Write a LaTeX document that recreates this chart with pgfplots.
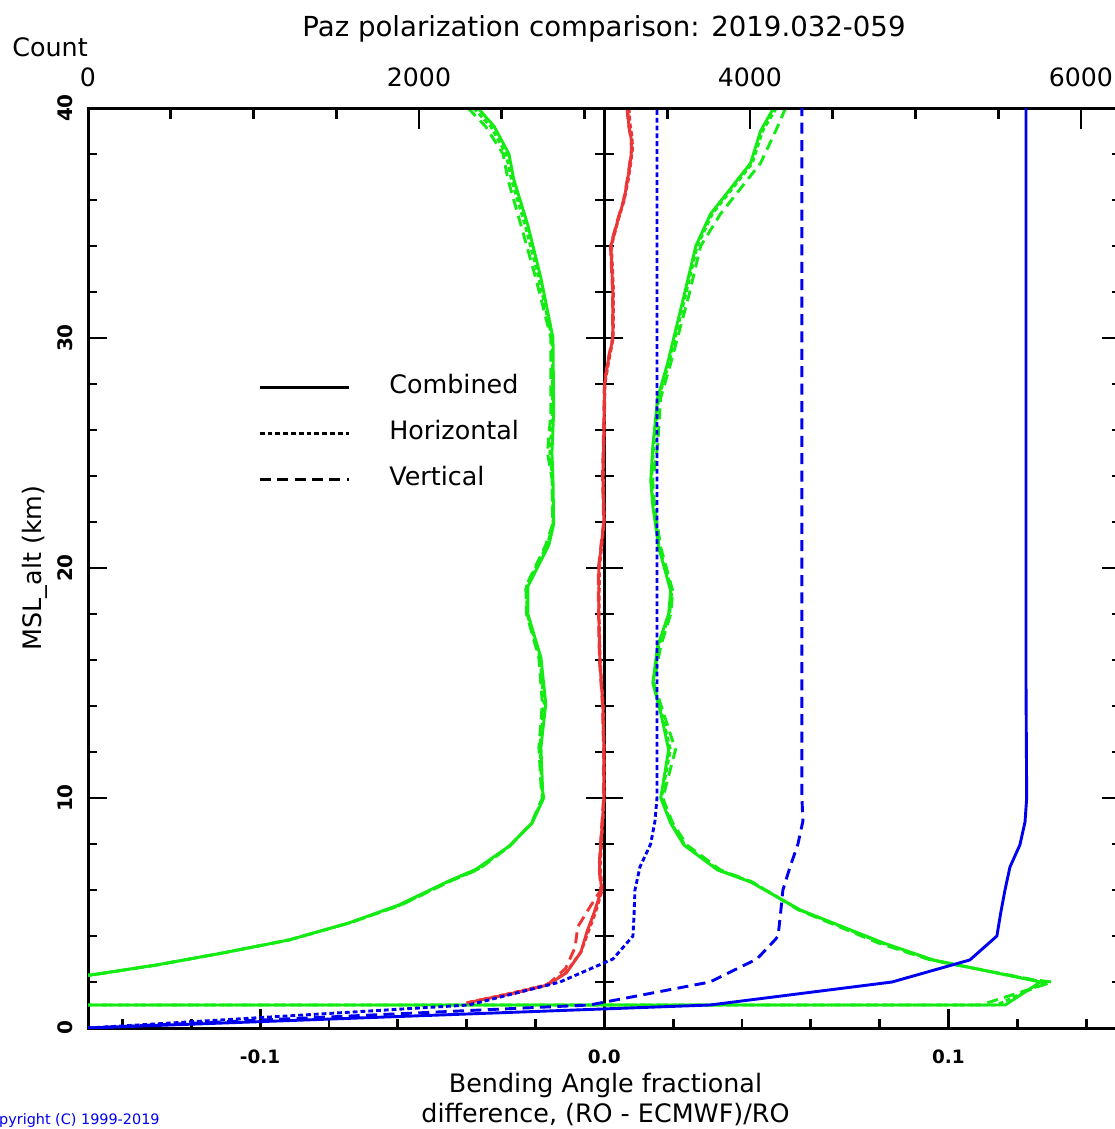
\documentclass[border=0pt]{standalone}
\usepackage{fontspec}
\setmainfont{DejaVu Sans}
\usepackage{pgfplots}
\pgfplotsset{compat=1.18}

\definecolor{stdgreen}{RGB}{20,235,20}
\definecolor{meanred}{RGB}{235,55,55}
\definecolor{cntblue}{RGB}{0,0,240}

\tikzset{
  comb/.style={solid, line width=1.45pt},
  horiz/.style={line width=1.45pt, dash pattern=on 2.4pt off 1.5pt},
  vert/.style={line width=1.45pt, dash pattern=on 5.5pt off 3.2pt},
}

\pgfplotsset{
  panel/.style={
    at={(44pt,-514pt)}, anchor=south west,
    scale only axis, width=516.25pt, height=460pt,
    ymin=0, ymax=40,
    axis line style={line width=1.5pt, -},
    tick align=inside,
    tick style={black, line width=1.4pt},
  },
}

\begin{document}
\begin{tikzpicture}

% fractional difference axis (bottom/left/right)
\begin{axis}[panel,
  xmin=-0.15, xmax=0.15,
  xtick={-0.1,0,0.1}, xticklabels={-0.1,0.0,0.1},
  minor xtick={-0.14,-0.12,-0.08,-0.06,-0.04,-0.02,0.02,0.04,0.06,0.08,0.12,0.14},
  xtick pos=left,
  ytick={0,10,30,40}, yticklabels={0,10,30,40},
  extra y ticks={20}, extra y tick labels={20},
  minor ytick={2,4,6,8,12,14,16,18,22,24,26,28,32,34,36,38},
  every major y tick/.append style={line width=0.6pt},
  extra y tick style={every major y tick/.append style={line width=1.4pt}},
  major tick length=9.5pt, minor tick length=4.5pt,
  yticklabel pos=left,
  x tick label style={font=\fontsize{9.2}{10}\selectfont\bfseries, anchor=center, yshift=-14.5pt},
  y tick label style={font=\fontsize{10}{11}\selectfont\bfseries, anchor=center, xshift=-11.5pt, rotate=90},
  legend style={at={(axis cs:-0.1006,28.45)}, anchor=north west, draw=none, fill=none,
    inner sep=0pt, row sep=10pt,
    font=\fontsize{12.7}{15}\selectfont,
    nodes={inner sep=0pt, text height=9.6pt, text depth=3.4pt}},
  legend cell align=left,
  legend image code/.code={\draw[#1] (0pt,0pt) -- (44.5pt,0pt); \path (64pt,0pt);},
]
\addlegendimage{black, comb}
\addlegendentry{Combined}
\addlegendimage{black, horiz}
\addlegendentry{Horizontal}
\addlegendimage{black, vert}
\addlegendentry{Vertical}

% zero line with crossing ticks
\draw[line width=1.5pt] (axis cs:0,0) -- (axis cs:0,40);
\pgfplotsinvokeforeach{2,4,6,8,12,14,16,18,22,24,26,28,32,34,36,38}{
  \draw[line width=1.4pt] ([xshift=-4.75pt]axis cs:0,#1) -- ([xshift=4.75pt]axis cs:0,#1);}
\pgfplotsinvokeforeach{10,30}{
  \draw[line width=0.6pt] ([xshift=-9.25pt]axis cs:0,#1) -- ([xshift=9.25pt]axis cs:0,#1);}
\draw[line width=1.4pt] ([xshift=-9.25pt]axis cs:0,20) -- ([xshift=9.25pt]axis cs:0,20);

% mean minus one standard deviation
\addplot[stdgreen, comb, forget plot] coordinates {
(-0.0367,40) (-0.0320,39.2) (-0.0277,38.0) (-0.0263,36.9) (-0.0222,34.9) (-0.0184,32.6)
(-0.0149,30.0) (-0.0147,26.8) (-0.0152,25.0) (-0.0149,23.9) (-0.0147,21.9) (-0.0161,21.0)
(-0.0222,19.2) (-0.0222,18.0) (-0.0184,16.1) (-0.0170,14.1) (-0.0184,12.2) (-0.0179,10.3)
(-0.0176,10.0) (-0.0210,8.9) (-0.0277,7.9) (-0.0373,6.9) (-0.0451,6.4) (-0.0597,5.35)
(-0.0742,4.57) (-0.0916,3.83) (-0.1110,3.26) (-0.1302,2.74) (-0.1496,2.3) (-0.30,2.0) (-0.6,1.0)};
\addplot[stdgreen, horiz, forget plot] coordinates {
(-0.0380,40) (-0.0330,39.2) (-0.0285,38.0) (-0.0270,36.9) (-0.0230,34.9) (-0.0190,32.6)
(-0.0152,30.0) (-0.0150,26.8) (-0.0158,25.0) (-0.0151,23.9) (-0.0149,21.9) (-0.0166,21.0)
(-0.0226,19.2) (-0.0224,18.0) (-0.0187,16.1) (-0.0175,14.1) (-0.0187,12.2) (-0.0181,10.3)
(-0.0178,10.0) (-0.0211,8.9) (-0.0276,7.9) (-0.0368,6.9) (-0.0447,6.4) (-0.0592,5.35)
(-0.0740,4.57) (-0.0914,3.83) (-0.1108,3.26) (-0.1300,2.74) (-0.1492,2.3) (-0.30,2.0) (-0.6,1.0)};
\addplot[stdgreen, vert, forget plot] coordinates {
(-0.0396,40) (-0.0345,39.2) (-0.0294,38.0) (-0.0280,36.9) (-0.0242,34.9) (-0.0199,32.6)
(-0.0155,30.0) (-0.0155,26.8) (-0.0165,25.0) (-0.0152,23.9) (-0.0150,21.9) (-0.0170,21.0)
(-0.0228,19.2) (-0.0226,18.0) (-0.0190,16.1) (-0.0180,14.1) (-0.0190,12.2) (-0.0183,10.3)
(-0.0180,10.0) (-0.0212,8.9) (-0.0275,7.9) (-0.0365,6.9) (-0.0445,6.4) (-0.0590,5.35)
(-0.0740,4.57) (-0.0916,3.83) (-0.1110,3.26) (-0.1300,2.74) (-0.1490,2.3) (-0.30,2.0) (-0.6,1.0)};

% mean plus one standard deviation
\addplot[stdgreen, comb, forget plot] coordinates {
(0.0492,40) (0.0454,39.0) (0.0425,37.6) (0.0388,36.9) (0.0309,35.4) (0.0266,34.0)
(0.0231,31.8) (0.0184,28.9) (0.0155,27.4) (0.0141,25.3) (0.0135,23.8) (0.0141,22.7)
(0.0158,20.9) (0.0193,19.0) (0.0187,18.0) (0.0155,16.6) (0.0141,15.0) (0.0164,13.7)
(0.0187,12.1) (0.0164,10.0) (0.0193,8.9) (0.0231,7.96) (0.0329,6.87) (0.0425,6.35)
(0.0570,5.13) (0.0811,3.7) (0.0956,2.96) (0.1238,2.09) (0.1267,2.0) (0.1165,1.0) (-0.6,1.0)};
\addplot[stdgreen, horiz, forget plot] coordinates {
(0.0500,40) (0.0460,39.0) (0.0430,37.6) (0.0393,36.9) (0.0314,35.4) (0.0270,34.0)
(0.0235,31.8) (0.0188,28.9) (0.0158,27.4) (0.0144,25.3) (0.0137,23.8) (0.0143,22.7)
(0.0160,20.9) (0.0196,19.0) (0.0190,18.0) (0.0158,16.6) (0.0142,15.0) (0.0167,13.7)
(0.0192,12.1) (0.0166,10.0) (0.0195,8.9) (0.0234,7.96) (0.0332,6.87) (0.0428,6.35)
(0.0568,5.13) (0.0805,3.7) (0.0952,2.96) (0.1244,2.09) (0.1285,2.0) (0.1140,1.0) (-0.6,1.0)};
\addplot[stdgreen, vert, forget plot] coordinates {
(0.0527,40) (0.0498,39.0) (0.0454,37.6) (0.0417,36.9) (0.0338,35.4) (0.0280,34.0)
(0.0245,31.8) (0.0193,28.9) (0.0164,27.4) (0.0155,25.3) (0.0141,23.8) (0.0146,22.7)
(0.0164,20.9) (0.0199,19.0) (0.0193,18.0) (0.0164,16.6) (0.0144,15.0) (0.0172,13.7)
(0.0207,12.1) (0.0170,10.0) (0.0199,8.9) (0.0240,7.96) (0.0338,6.87) (0.0430,6.35)
(0.0565,5.13) (0.0796,3.7) (0.0947,2.96) (0.1250,2.09) (0.1302,2.0) (0.1093,1.0) (-0.6,1.0)};

% mean
\addplot[meanred, comb, forget plot] coordinates {
(0.0068,40) (0.0071,39.3) (0.0078,38.7) (0.0080,38.2) (0.0074,37.5) (0.0068,36.9)
(0.0057,36.0) (0.0039,35.1) (0.0019,34.0) (0.0025,32.0) (0.0025,30.0) (0.0010,28.9)
(0.0001,28.0) (-0.0001,26.0) (-0.0004,24.0) (-0.0001,22.0) (-0.0016,20.0) (-0.0016,18.0)
(-0.0013,16.0) (-0.0004,14.0) (-0.0001,12.0) (-0.0001,10.0) (-0.0010,8.0) (-0.0014,7.0)
(-0.0008,6.0) (-0.0030,5.0) (-0.0050,4.2) (-0.0068,3.3) (-0.0110,2.4) (-0.0165,1.87)
(-0.0262,1.52) (-0.0400,1.09)};
\addplot[meanred, horiz, forget plot] coordinates {
(0.0072,40) (0.0075,39.3) (0.0081,38.7) (0.0082,38.2) (0.0076,37.5) (0.0070,36.9)
(0.0058,36.0) (0.0040,35.1) (0.0021,34.0) (0.0027,32.0) (0.0026,30.0) (0.0012,28.9)
(0.0002,28.0) (0.0000,26.0) (-0.0003,24.0) (0.0000,22.0) (-0.0014,20.0) (-0.0015,18.0)
(-0.0012,16.0) (-0.0003,14.0) (0.0000,12.0) (0.0000,10.0) (-0.0008,8.0) (-0.0012,7.0)
(-0.0006,6.0) (-0.0026,5.0) (-0.0046,4.2) (-0.0068,3.3) (-0.0112,2.4) (-0.0170,1.87)
(-0.0270,1.52) (-0.0400,1.09)};
\addplot[meanred, vert, forget plot] coordinates {
(0.0066,40) (0.0070,39.3) (0.0077,38.7) (0.0079,38.2) (0.0073,37.5) (0.0067,36.9)
(0.0056,36.0) (0.0038,35.1) (0.0018,34.0) (0.0024,32.0) (0.0024,30.0) (0.0009,28.9)
(0.0000,28.0) (-0.0002,26.0) (-0.0005,24.0) (-0.0002,22.0) (-0.0017,20.0) (-0.0017,18.0)
(-0.0014,16.0) (-0.0005,14.0) (-0.0002,12.0) (-0.0002,10.0) (-0.0011,8.0) (-0.0015,7.0)
(-0.0010,6.0) (-0.0040,5.3) (-0.0077,4.4) (-0.0085,3.5) (-0.0112,2.6) (-0.0165,1.87)
(-0.0262,1.52) (-0.0400,1.09)};
\end{axis}

% count axis (top)
\begin{axis}[panel,
  xmin=0, xmax=6239,
  axis x line*=top, hide y axis,
  x axis line style={-},
  xtick={0,2000,4000,6000}, xticklabels={0,2000,4000,6000},
  minor xtick={500,1000,1500,2500,3000,3500,4500,5000,5500},
  major tick length=10.5pt, minor tick length=5.5pt,
  x tick label style={font=\fontsize{12.6}{14}\selectfont, anchor=center, yshift=15.5pt},
]
\addplot[cntblue, comb] coordinates {
(0,0) (3758,1.0) (4858,2.0) (5329,2.96) (5492,4.0) (5515,5.0) (5541,6.0) (5571,7.0)
(5631,7.96) (5662,8.96) (5672,10.0) (5668,15.0) (5668,40)};
\addplot[cntblue, horiz] coordinates {
(0,0) (2300,1.0) (2852,2.0) (3172,3.0) (3293,4.0) (3300,5.0) (3305,6.0) (3335,7.0)
(3400,8.0) (3426,9.0) (3438,10.0) (3438,40)};
\addplot[cntblue, vert] coordinates {
(0,0) (3030,1.0) (3758,2.0) (4042,3.0) (4151,3.83) (4170,4.0) (4185,5.0) (4199,6.0)
(4242,7.0) (4290,8.0) (4320,9.0) (4314,10.0) (4314,40)};
\end{axis}

\node[anchor=base, font=\fontsize{13.8}{16}\selectfont] at (302pt,-18.5pt)
  {Paz polarization comparison: 2019.032-059};
\node[anchor=base, font=\fontsize{12.7}{15}\selectfont] at (25pt,-28.5pt) {Count};
\node[rotate=90, anchor=center, font=\fontsize{12.7}{15}\selectfont] at (17.5pt,-284pt)
  {MSL\_alt (km)};
\node[anchor=base, font=\fontsize{12.7}{15}\selectfont] at (302.75pt,-546pt)
  {Bending Angle fractional};
\node[anchor=base, font=\fontsize{12.7}{15}\selectfont] at (302.75pt,-561pt)
  {difference, (RO - ECMWF)/RO};
\node[anchor=base east, text=cntblue, inner sep=0pt, font=\fontsize{7.2}{9}\selectfont]
  at (80pt,-562pt) {Copyright (C) 1999-2019};

\pgfresetboundingbox
\useasboundingbox (0pt,0pt) rectangle (557pt,-564.5pt);
\end{tikzpicture}
\end{document}
